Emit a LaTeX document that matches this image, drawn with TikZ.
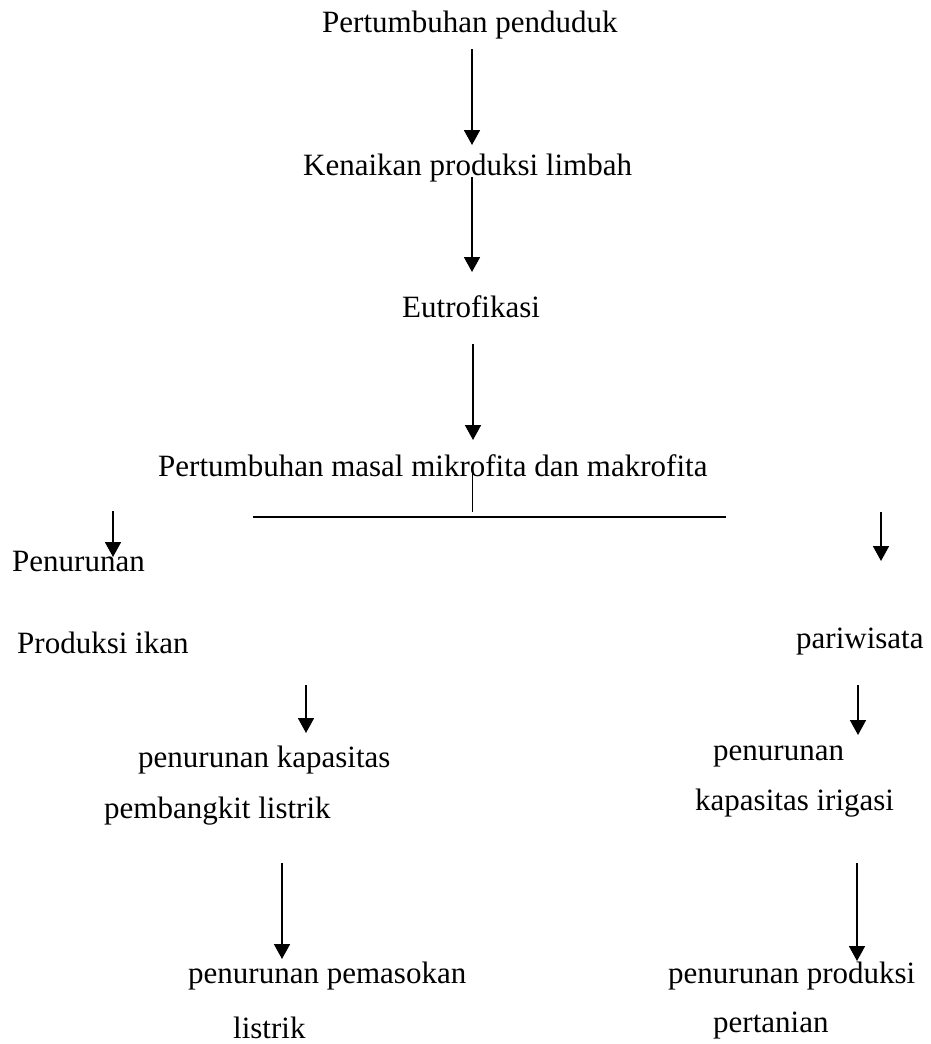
\documentclass[tikz,border=0pt]{standalone}
\usepackage{fontspec}
\setmainfont{Liberation Serif}
\usetikzlibrary{arrows.meta}

\tikzset{
 lbl/.style={anchor=base west, inner sep=0pt, font=\fontsize{31}{37}\selectfont},
 arr/.style={black, line width=1.8pt, -{Triangle[width=16pt,length=15pt]}},
}

\begin{document}
\begin{tikzpicture}[x=1pt,y=-1pt]
\useasboundingbox (0,0) rectangle (930,1044);
% middle column
\node[lbl] (pend) at (322,32) {Pertumbuhan penduduk};
\node[lbl] (limbah) at (303,175) {Kenaikan produksi limbah};
\node[lbl] (eutro) at (402,317) {Eutrofikasi};
\node[lbl] (masal) at (158,476) {Pertumbuhan masal mikrofita dan makrofita};
% left side
\node[lbl] (turun) at (12,571) {Penurunan};
\node[lbl] (ikan) at (17,653) {Produksi ikan};
\node[lbl] (kaplis) at (138,767) {penurunan kapasitas};
\node[lbl] (pembang) at (104,818) {pembangkit listrik};
\node[lbl] (pasok) at (188,983) {penurunan pemasokan};
\node[lbl] (listrik) at (233,1038) {listrik};
% right side
\node[lbl] (wisata) at (796,648) {pariwisata};
\node[lbl] (turunirig) at (713,760) {penurunan};
\node[lbl] (kapirig) at (695,810) {kapasitas irigasi};
\node[lbl] (prodtani) at (668,983) {penurunan produksi};
\node[lbl] (tani) at (713,1032) {pertanian};

\foreach \n/\x/\ya/\yb in {1/472/49/145, 2/472/177/272, 3/473/344/440,
 4/113/511/557, 5/881/512/561, 6/306/685/733, 7/858/685/735,
 8/282/863/959, 9/857/863/961} {
 \coordinate (s\n) at (\x,\ya);
 \coordinate (e\n) at (\x,\yb);
 \draw[arr] (s\n) -- (e\n);
}

% branch under masal
\coordinate (brtop) at (472,465);
\coordinate (brbot) at (472,512);
\coordinate (hl) at (253,517);
\coordinate (hr) at (726,517);
\draw[black, line width=1pt] (brtop) -- (brbot);
\draw[black, line width=1.8pt] (hl) -- (hr);
\end{tikzpicture}
\end{document}
